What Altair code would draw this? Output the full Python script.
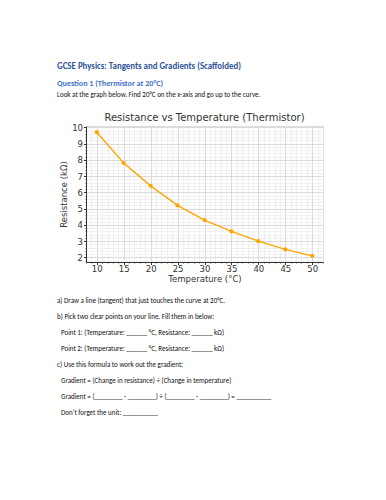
import altair as alt
import pandas as pd

# ---- data ----
temperature = [10, 15, 20, 25, 30, 35, 40, 45, 50]
resistance = [9.7, 7.8, 6.4, 5.2, 4.3, 3.6, 3.0, 2.5, 2.1]
x_major = [10, 15, 20, 25, 30, 35, 40, 45, 50]
y_major = [2, 3, 4, 5, 6, 7, 8, 9, 10]
x_minor = list(range(8, 53))
y_minor = [round(1.8 + 0.2 * i, 1) for i in range(42)]

heading = "GCSE Physics: Tangents and Gradients (Scaffolded)"
question = "Question 1 (Thermistor at 20°C)"
intro = "Look at the graph below. Find 20°C on the x-axis and go up to the curve."
chart_title = "Resistance vs Temperature (Thermistor)"
x_title = "Temperature (°C)"
y_title = "Resistance (kΩ)"
tasks = [
    "a) Draw a line (tangent) that just touches the curve at 20°C.",
    "b) Pick two clear points on your line. Fill them in below:",
    "Point 1: (Temperature: ______ °C, Resistance: ______ kΩ)",
    "Point 2: (Temperature: ______ °C, Resistance: ______ kΩ)",
    "c) Use this formula to work out the gradient:",
    "Gradient = (Change in resistance) ÷ (Change in temperature)",
    "Gradient = (________ - ________) ÷ (________ - ________) = __________",
    "Don’t forget the unit: __________",
]
task_indent = [0, 0, 1, 1, 0, 1, 1, 1]

df = pd.DataFrame({"T": temperature, "R": resistance})

W, H = 237, 136
xdom = [8, 52]
ydom = [1.72, 10.08]
DOC_FONT = "Carlito, Lato"
PLOT_FONT = "DejaVu Sans"

minor = alt.Chart(df).mark_point(opacity=0).encode(
    x=alt.X("T:Q", scale=alt.Scale(domain=xdom, nice=False, zero=False),
            axis=alt.Axis(values=x_minor, orient="bottom", labels=False, title=None,
                          domain=False, grid=True, gridColor="#e8e8e8", gridWidth=0.6,
                          ticks=True, tickSize=1.5, tickColor="#666", tickWidth=0.5)),
    y=alt.Y("R:Q", scale=alt.Scale(domain=ydom, nice=False, zero=False),
            axis=alt.Axis(values=y_minor, orient="left", labels=False, title=None,
                          domain=False, grid=True, gridColor="#e8e8e8", gridWidth=0.6,
                          ticks=True, tickSize=1.5, tickColor="#666", tickWidth=0.5)),
)

xs = alt.Scale(domain=xdom, nice=False, zero=False)
ys = alt.Scale(domain=ydom, nice=False, zero=False)
xax = alt.Axis(values=x_major, orient="bottom", title=x_title, grid=True, gridColor="#d4d4d4",
               gridWidth=0.8, domainColor="#333", tickColor="#333", tickSize=2.5,
               labelOverlap=False, labelFlush=False,
               labelFont=PLOT_FONT, labelFontSize=8.5, labelColor="#333", labelPadding=0,
               titleFont=PLOT_FONT, titleFontSize=8.5, titleFontWeight="normal",
               titleColor="#333", titlePadding=1)
yax = alt.Axis(values=y_major, orient="left", title=y_title, grid=True, gridColor="#d4d4d4",
               gridWidth=0.8, domainColor="#333", tickColor="#333", tickSize=2.5,
               labelOverlap=False, labelFlush=False,
               labelFont=PLOT_FONT, labelFontSize=8.5, labelColor="#333", labelPadding=1,
               titleFont=PLOT_FONT, titleFontSize=8.5, titleFontWeight="normal",
               titleColor="#333", titlePadding=3)

main = alt.Chart(df).mark_line(
    color="#FFA500", strokeWidth=1.4,
    point=alt.OverlayMarkDef(color="#FFA500", filled=True, opacity=1, size=18, shape="circle"),
).encode(x=alt.X("T:Q", scale=xs, axis=xax), y=alt.Y("R:Q", scale=ys, axis=yax))


def txt(s, x, y, size, color="#111", weight="normal", font=DOC_FONT, align="left"):
    return alt.Chart(pd.DataFrame({"t": [s]})).mark_text(
        align=align, baseline="middle", font=font, fontSize=size,
        fontWeight=weight, color=color).encode(
        x=alt.value(x), y=alt.value(y), text="t:N")


texts = [
    txt(heading, -29, -60, 8.9, "#2F5496", "bold"),
    txt(question, -29, -42, 8.1, "#4472C4", "bold"),
    txt(intro, -29, -31, 7),
    txt(chart_title, W / 2, -8, 10, "#333", font=PLOT_FONT, align="center"),
]
for i, (s, ind) in enumerate(zip(tasks, task_indent)):
    texts.append(txt(s, -29 + 4 * ind, 174.7 + 16 * i, 7))

chart = alt.layer(minor, main, *texts).resolve_scale(
    x="independent", y="independent"
).properties(
    width=W, height=H,
    autosize=alt.AutoSizeParams(type="none"),
    padding={"left": 78, "top": 118, "right": 55, "bottom": 200},
).configure_view(stroke=None).configure(background="white")

chart.save("out.html", embed_options={"renderer": "svg", "actions": False})
